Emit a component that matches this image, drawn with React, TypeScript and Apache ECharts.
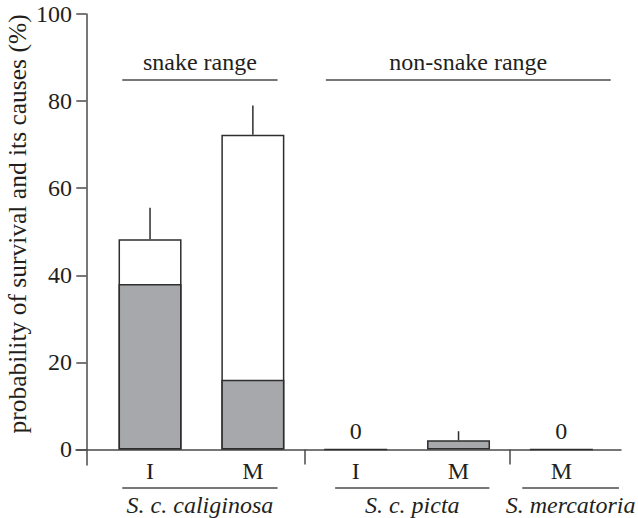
import React, { useEffect, useRef } from "react";
import * as echarts from "echarts";

// ---- data ----
const categories = ["I", "M", "I", "M", "M"];
const survivalTotal = [48.3, 72.3, 0, 2.1, 0];
const grayPart = [38, 16, 0, 2.1, 0];
const errorUpper = [55.5, 79, null, 4.2, null];
const yTicks = [0, 20, 40, 60, 80, 100];
const rangeNames = ["snake range", "non-snake range"];
const groupNames = ["S. c. caliginosa", "S. c. picta", "S. mercatoria"];
const yTitle = "probability of survival and its causes (%)";

// ---- layout ----
const FIRST = 0.62;
const positions = categories.map((_, i) => FIRST + i);
const separators = [FIRST + 1.5, FIRST + 3.5];
const FONT = "Liberation Serif";
const TXT = "#231f20";
const AX = "#4a4a4a";
const BORDER = "#2e2e2e";
const GRAY = "#a7a8ab";

export default function App() {
  const ref = useRef<HTMLDivElement>(null);
  useEffect(() => {
    if (!ref.current) return;
    const chart = echarts.init(ref.current, null, { renderer: "svg" });
    chart.setOption({
      animation: false,
      backgroundColor: "#fff",
      grid: { left: 76, right: 17, top: 14, bottom: 53, containLabel: false },
      xAxis: {
        type: "value",
        min: -0.1,
        max: 5.2,
        splitLine: { show: false },
        axisLine: { show: true, onZero: true, lineStyle: { color: AX, width: 1.5 } },
        axisTick: {
          show: true,
          customValues: separators,
          length: 15,
          lineStyle: { color: AX, width: 1.5 },
        },
        axisLabel: {
          customValues: positions,
          formatter: (v: number) => {
            const i = positions.findIndex((p) => Math.abs(p - v) < 1e-6);
            return i >= 0 ? categories[i] : "";
          },
          fontFamily: FONT,
          fontSize: 24,
          color: TXT,
          margin: -6,
        },
      },
      yAxis: {
        type: "value",
        min: -3.56,
        max: 100,
        splitLine: { show: false },
        axisLine: { show: true, onZero: true, lineStyle: { color: AX, width: 1.5 } },
        axisTick: {
          show: true,
          customValues: yTicks,
          length: 10,
          lineStyle: { color: AX, width: 1.5 },
        },
        axisLabel: {
          customValues: yTicks,
          fontFamily: FONT,
          fontSize: 24,
          color: TXT,
          margin: 4,
        },
      },
      series: [
        {
          type: "bar",
          barWidth: 63,
          barGap: "-100%",
          data: positions.map((p, i) => [p, survivalTotal[i] > grayPart[i] ? survivalTotal[i] : null]),
          itemStyle: { color: "#fff", borderColor: BORDER, borderWidth: 1.5 },
        },
        {
          type: "bar",
          barWidth: 63,
          barGap: "-100%",
          data: positions.map((p, i) => [p, grayPart[i]]),
          itemStyle: { color: GRAY, borderColor: BORDER, borderWidth: 1.5 },
          label: {
            show: true,
            position: "top",
            distance: 6,
            formatter: (p: any) => (survivalTotal[p.dataIndex] === 0 ? "0" : ""),
            fontFamily: FONT,
            fontSize: 24,
            color: TXT,
          },
        },
        {
          type: "custom",
          data: positions
            .map((p, i) => (errorUpper[i] == null ? null : [p, survivalTotal[i], errorUpper[i]]))
            .filter((d) => d !== null),
          renderItem: (params: any, api: any) => {
            const a = api.coord([api.value(0), api.value(1)]);
            const b = api.coord([api.value(0), api.value(2)]);
            return {
              type: "line",
              shape: { x1: a[0], y1: a[1], x2: b[0], y2: b[1] },
              style: { stroke: BORDER, lineWidth: 1.5 },
            };
          },
        },
      ],
    });

    const px = (x: number) => chart.convertToPixel({ gridIndex: 0 }, [x, 0])[0];
    const headerSpans = [
      [positions[0] - 0.27, positions[1] + 0.24],
      [positions[2] - 0.29, positions[4] + 0.48],
    ];
    const groupSpans = [
      [positions[0] - 0.27, positions[1] + 0.24],
      [positions[2] - 0.2, positions[3] + 0.3],
      [positions[4] - 0.38, positions[4] + 0.56],
    ];
    const textStyle = (text: string, italic = false, size = 24) => ({
      text,
      align: "center",
      verticalAlign: "middle",
      fontFamily: FONT,
      fontSize: size,
      fontStyle: italic ? "italic" : "normal",
      fill: TXT,
    });
    const graphics: any[] = [];
    headerSpans.forEach((s, i) => {
      const x1 = px(s[0]);
      const x2 = px(s[1]);
      graphics.push({
        type: "line",
        shape: { x1, y1: 80, x2, y2: 80 },
        style: { stroke: AX, lineWidth: 1.5 },
      });
      graphics.push({ type: "text", x: (x1 + x2) / 2, y: 62, style: textStyle(rangeNames[i]) });
    });
    groupSpans.forEach((s, i) => {
      const x1 = px(s[0]);
      const x2 = px(s[1]);
      graphics.push({
        type: "line",
        shape: { x1, y1: 488, x2, y2: 488 },
        style: { stroke: AX, lineWidth: 1.5 },
      });
      graphics.push({ type: "text", x: (x1 + x2) / 2, y: 505, style: textStyle(groupNames[i], true) });
    });
    graphics.push({
      type: "text",
      x: 17,
      y: 224,
      rotation: Math.PI / 2,
      style: textStyle(yTitle, false, 25.5),
    });
    chart.setOption({ graphic: graphics });

    return () => chart.dispose();
  }, []);
  return <div ref={ref} style={{ width: 638, height: 518, position: "absolute", left: 0, top: 0 }} />;
}
